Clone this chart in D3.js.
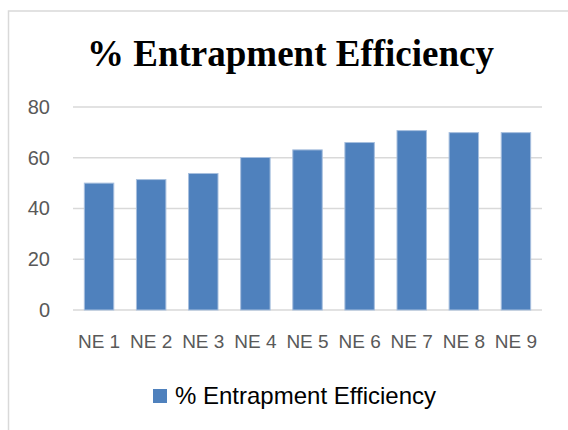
<!DOCTYPE html>
<html>
<head>
<meta charset="utf-8">
<script src="https://cdn.jsdelivr.net/npm/d3@7"></script>
<style>
  body { margin: 0; background: #fff; }
  text { font-family: "Liberation Sans", Arial, sans-serif; }
</style>
</head>
<body>
<script>
var width = 568,
    height = 430;

// data
var categories = ["NE 1", "NE 2", "NE 3", "NE 4", "NE 5", "NE 6", "NE 7", "NE 8", "NE 9"];
var efficiency = [50, 51.4, 53.8, 60.1, 63.1, 66, 70.7, 69.9, 69.9];
var yTicks = [0, 20, 40, 60, 80];
var seriesName = "% Entrapment Efficiency";

var margin = {top: 107, right: 26, bottom: 120, left: 73};

var svg = d3.select("body").append("svg")
    .attr("width", width)
    .attr("height", height);

// chart frame (runs off right / bottom edge)
svg.append("rect")
    .attr("x", 8.5)
    .attr("y", 11)
    .attr("width", width + 10)
    .attr("height", height + 10)
    .attr("fill", "#fff")
    .attr("stroke", "#d9d9d9")
    .attr("stroke-width", 1.5);

var x = d3.scaleBand()
    .domain(categories)
    .range([margin.left, width - margin.right])
    .paddingInner(0.435)
    .paddingOuter(0.2175);

var y = d3.scaleLinear()
    .domain([0, 80])
    .range([310, 107]);

// gridlines
svg.append("g")
    .selectAll("line")
    .data(yTicks)
    .enter()
    .append("line")
    .attr("x1", margin.left)
    .attr("x2", width - margin.right)
    .attr("y1", d => y(d))
    .attr("y2", d => y(d))
    .attr("stroke", "#d9d9d9")
    .attr("stroke-width", 1.5);

// y axis labels
var yAxis = d3.axisLeft(y).tickValues(yTicks).tickSize(0).tickPadding(0);
svg.append("g")
    .attr("transform", "translate(50,0)")
    .call(yAxis)
    .call(g => g.select(".domain").remove())
    .selectAll("text")
    .attr("fill", "#595959")
    .style("font-size", "20px")
    .style("font-family", "Liberation Sans, Arial, sans-serif");

// bars
svg.append("g")
    .selectAll("rect")
    .data(efficiency)
    .enter()
    .append("rect")
    .attr("x", (d, i) => x(categories[i]))
    .attr("y", d => y(d))
    .attr("width", x.bandwidth())
    .attr("height", d => y(0) - y(d))
    .attr("fill", "#4f81bd")
    .attr("stroke", "#a7bfde")
    .attr("stroke-width", 1);

// x axis labels
var xAxis = d3.axisBottom(x).tickSize(0).tickPadding(0);
svg.append("g")
    .attr("transform", "translate(0,334)")
    .call(xAxis)
    .call(g => g.select(".domain").remove())
    .selectAll("text")
    .attr("fill", "#595959")
    .style("font-size", "19px")
    .style("font-family", "Liberation Sans, Arial, sans-serif");

// title
svg.append("text")
    .attr("x", 290.5)
    .attr("y", 66)
    .attr("text-anchor", "middle")
    .style("font-family", "Liberation Serif, Times New Roman, serif")
    .style("font-weight", "bold")
    .style("font-size", "37px")
    .attr("fill", "#000")
    .text(seriesName);

// legend
var legend = svg.append("g").attr("transform", "translate(153,389)");
legend.append("rect")
    .attr("width", 14)
    .attr("height", 14)
    .attr("fill", "#4f81bd");
legend.append("text")
    .attr("x", 22)
    .attr("y", 15)
    .attr("fill", "#000")
    .style("font-size", "24px")
    .text(seriesName);
</script>
</body>
</html>
